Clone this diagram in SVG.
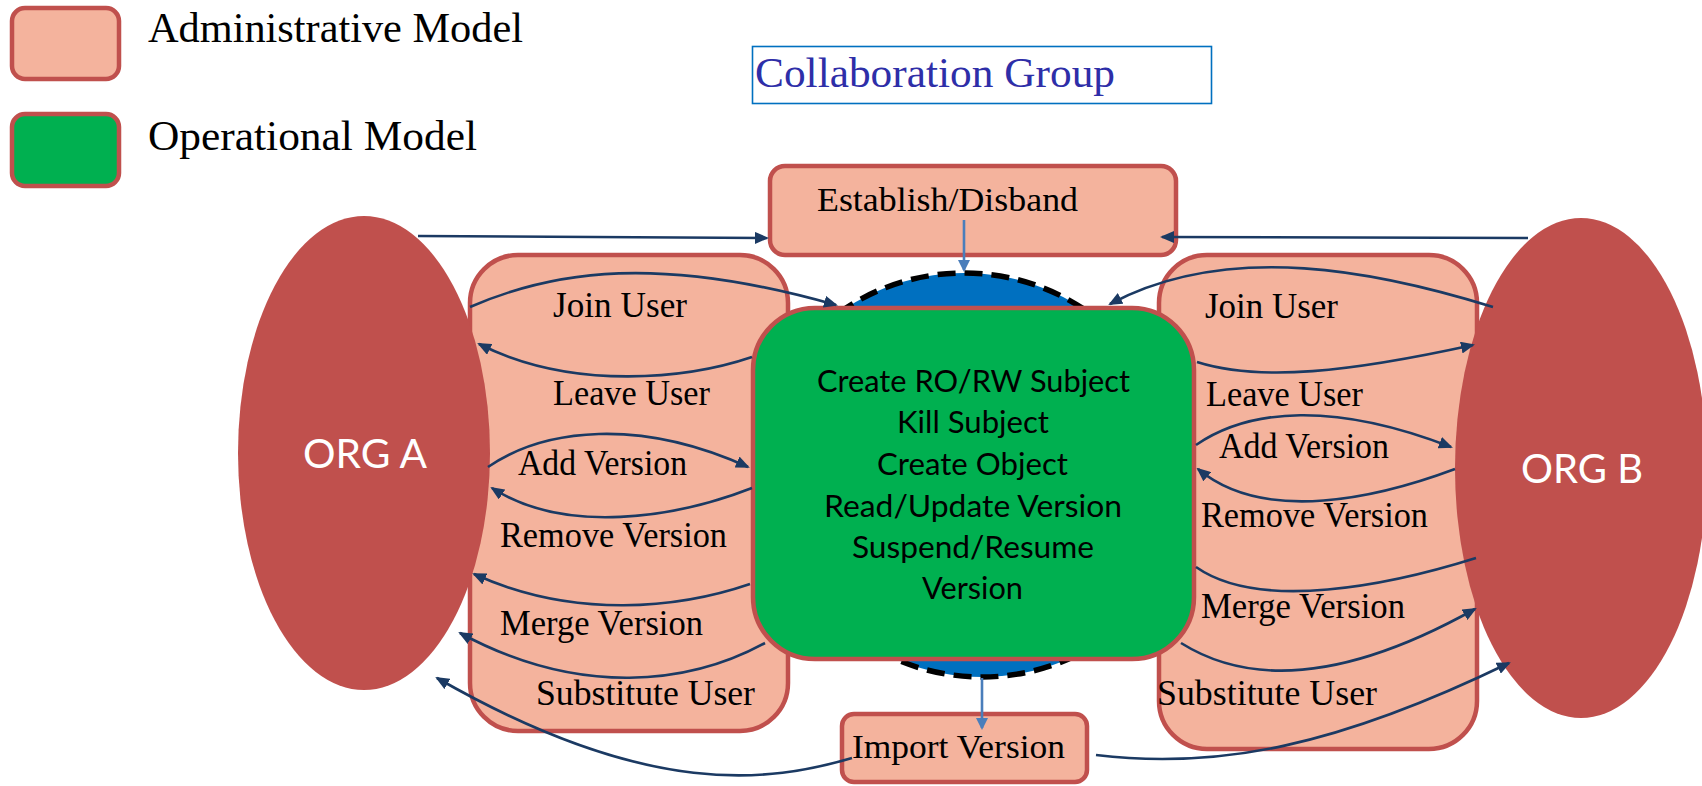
<svg xmlns="http://www.w3.org/2000/svg" width="1702" height="786" viewBox="0 0 1702 786">
<style>
.adm{fill:#F4B39D;stroke:#C0504D;stroke-width:4.5}
.org{fill:#C0504D}
.serif{font-family:"Liberation Serif","DejaVu Serif",serif;fill:#000}
.lbl{font-size:35px}
.sans{font-family:Lato,"Open Sans","Liberation Sans",sans-serif}
.conn{fill:none;stroke:#1B3A63;stroke-width:2.6}
.blue{fill:none;stroke:#4A7EBB;stroke-width:2.6}
</style>
<defs>
<marker id="ah" viewBox="0 0 14 12" refX="12" refY="6" markerWidth="14" markerHeight="12" orient="auto" markerUnits="userSpaceOnUse"><path d="M0,0 L14,6 L0,12 z" fill="#1B3A63"/></marker>
<marker id="bh" viewBox="0 0 12 12" refX="10" refY="6" markerWidth="12" markerHeight="12" orient="auto" markerUnits="userSpaceOnUse"><path d="M0,0 L12,6 L0,12 z" fill="#4A7EBB"/></marker>
</defs>
<rect width="1702" height="786" fill="#fff"/>

<g id="legend">
<rect class="adm" x="12" y="8" width="107" height="71" rx="13"/>
<text class="serif" x="148" y="42" font-size="42" textLength="375" lengthAdjust="spacingAndGlyphs">Administrative Model</text>
<rect x="12" y="114" width="107" height="72" rx="13" fill="#00B050" stroke="#C0504D" stroke-width="4.5"/>
<text class="serif" x="148" y="150" font-size="42" textLength="329" lengthAdjust="spacingAndGlyphs">Operational Model</text>
</g>

<g id="collab">
<rect x="752.5" y="46.5" width="459" height="57" fill="#fff" stroke="#0070C0" stroke-width="1.6"/>
<text class="serif" x="755" y="87" font-size="43" style="fill:#2E2EA8" textLength="360" lengthAdjust="spacingAndGlyphs">Collaboration Group</text>
</g>

<g id="establish">
<rect class="adm" x="770" y="166" width="406" height="89" rx="15"/>
<text class="serif" x="817" y="211" font-size="34" textLength="261" lengthAdjust="spacingAndGlyphs">Establish/Disband</text>
</g>

<g id="admin-left">
<rect class="adm" x="470" y="255" width="318" height="476" rx="48"/>
</g>
<g id="admin-right">
<rect class="adm" x="1159" y="255" width="318" height="494" rx="48"/>
</g>

<g id="dome">
<path d="M754,475 A210,202 0 0 1 1174,475 L1192,475 A210,202 0 0 1 772,475 Z" fill="#0070C0" stroke="#000" stroke-width="5.5" stroke-dasharray="18 9"/>
</g>

<g id="operational">
<rect x="753" y="308" width="441" height="351" rx="62" fill="#00B050" stroke="#C0504D" stroke-width="4.5"/>
<g class="sans" font-size="31" text-anchor="middle" fill="#000">
<text x="973.5" y="392" textLength="313" lengthAdjust="spacingAndGlyphs">Create RO/RW Subject</text>
<text x="973" y="433" textLength="152" lengthAdjust="spacingAndGlyphs">Kill Subject</text>
<text x="972.5" y="475" textLength="191" lengthAdjust="spacingAndGlyphs">Create Object</text>
<text x="973" y="517" textLength="298" lengthAdjust="spacingAndGlyphs">Read/Update Version</text>
<text x="973" y="558" textLength="242" lengthAdjust="spacingAndGlyphs">Suspend/Resume</text>
<text x="972.5" y="599" textLength="101" lengthAdjust="spacingAndGlyphs">Version</text>
</g>
</g>

<g id="org-a">
<ellipse class="org" cx="364" cy="453" rx="126" ry="237"/>
<text class="sans" x="365" y="468" font-size="41" fill="#fff" text-anchor="middle" textLength="124" lengthAdjust="spacingAndGlyphs">ORG A</text>
</g>
<g id="org-b">
<ellipse class="org" cx="1581" cy="468" rx="126" ry="250"/>
<text class="sans" x="1582" y="483" font-size="41" fill="#fff" text-anchor="middle" textLength="122" lengthAdjust="spacingAndGlyphs">ORG B</text>
</g>

<g id="import">
<rect class="adm" x="842" y="714" width="245" height="68" rx="12"/>
<text class="serif" x="852" y="758" font-size="34" textLength="213" lengthAdjust="spacingAndGlyphs">Import Version</text>
</g>

<g id="labels" class="serif lbl">
<text x="553" y="317" textLength="134" lengthAdjust="spacingAndGlyphs">Join User</text>
<text x="553" y="405" textLength="157" lengthAdjust="spacingAndGlyphs">Leave User</text>
<text x="518" y="475" textLength="169" lengthAdjust="spacingAndGlyphs">Add Version</text>
<text x="500" y="547" textLength="227" lengthAdjust="spacingAndGlyphs">Remove Version</text>
<text x="500" y="635" textLength="203" lengthAdjust="spacingAndGlyphs">Merge Version</text>
<text x="536" y="705" textLength="219" lengthAdjust="spacingAndGlyphs">Substitute User</text>
<text x="1205" y="318" textLength="133" lengthAdjust="spacingAndGlyphs">Join User</text>
<text x="1206" y="406" textLength="157" lengthAdjust="spacingAndGlyphs">Leave User</text>
<text x="1219" y="458" textLength="170" lengthAdjust="spacingAndGlyphs">Add Version</text>
<text x="1201" y="527" textLength="227" lengthAdjust="spacingAndGlyphs">Remove Version</text>
<text x="1201" y="618" textLength="204" lengthAdjust="spacingAndGlyphs">Merge Version</text>
<text x="1157" y="705" textLength="220" lengthAdjust="spacingAndGlyphs">Substitute User</text>
</g>

<g id="connectors">
<path class="conn" marker-end="url(#ah)" d="M418,236 L767,238"/>
<path class="conn" marker-end="url(#ah)" d="M1528,238 L1162,237"/>
<path class="blue" marker-end="url(#bh)" d="M964,220 L964,270"/>
<path class="blue" marker-end="url(#bh)" d="M982,678 L982,728"/>
<path class="conn" marker-end="url(#ah)" d="M470,307 C555,270 660,255 836,305"/>
<path class="conn" marker-end="url(#ah)" d="M752,357 C690,378 575,392 479,344"/>
<path class="conn" marker-end="url(#ah)" d="M488,467 C545,428 640,418 748,467"/>
<path class="conn" marker-end="url(#ah)" d="M752,488 C675,518 565,535 492,488"/>
<path class="conn" marker-end="url(#ah)" d="M750,584 C680,608 575,620 474,574"/>
<path class="conn" marker-end="url(#ah)" d="M765,643 C690,684 580,698 460,633"/>
<path class="conn" marker-end="url(#ah)" d="M852,758 C770,782 650,800 437,678"/>
<path class="conn" marker-end="url(#ah)" d="M1493,307 C1380,272 1230,240 1110,304"/>
<path class="conn" marker-end="url(#ah)" d="M1197,362 C1260,382 1350,372 1473,345"/>
<path class="conn" marker-end="url(#ah)" d="M1196,445 C1250,408 1335,402 1451,447"/>
<path class="conn" marker-end="url(#ah)" d="M1455,469 C1380,497 1265,525 1198,469"/>
<path class="conn" d="M1476,558 C1390,585 1260,612 1196,567"/>
<path class="conn" marker-end="url(#ah)" d="M1181,643 C1240,680 1330,690 1475,609"/>
<path class="conn" marker-end="url(#ah)" d="M1096,755 C1220,770 1340,745 1509,663"/>
</g>
</svg>
